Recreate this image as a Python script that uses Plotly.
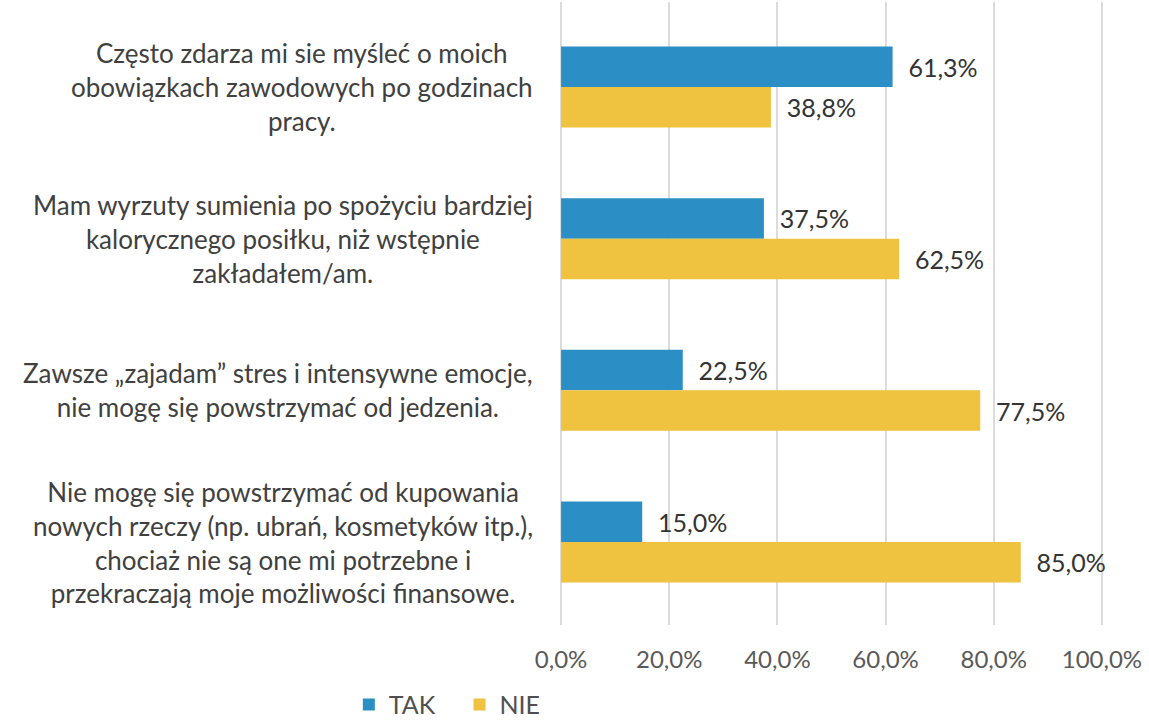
import plotly.graph_objects as go

categories = [
    "Często zdarza mi sie myśleć o moich<br>obowiązkach zawodowych po godzinach<br>pracy.",
    "Mam wyrzuty sumienia po spożyciu bardziej<br>kalorycznego posiłku, niż wstępnie<br>zakładałem/am.",
    "Zawsze „zajadam” stres i intensywne emocje,<br>nie mogę się powstrzymać od jedzenia.",
    "Nie mogę się powstrzymać od kupowania<br>nowych rzeczy (np. ubrań, kosmetyków itp.),<br>chociaż nie są one mi potrzebne i<br>przekraczają moje możliwości finansowe.",
]
tak = [61.3, 37.5, 22.5, 15.0]
nie = [38.8, 62.5, 77.5, 85.0]
series_names = ["TAK", "NIE"]
tick_values = [0, 20, 40, 60, 80, 100]
tick_labels = ["0,0%", "20,0%", "40,0%", "60,0%", "80,0%", "100,0%"]

BLUE = "#2b8fc6"
YELLOW = "#efc23f"
FONT = "Lato"

ids = [f"c{i}" for i in range(len(categories))]

fig = go.Figure()
for name, vals, col in [(series_names[0], tak, BLUE), (series_names[1], nie, YELLOW)]:
    fig.add_trace(go.Bar(
        y=ids, x=vals, name=name + "\u00a0\u00a0\u00a0", orientation="h",
        marker=dict(color=col, line=dict(width=0)),
        text=vals, texttemplate="\u00a0\u00a0%{x:.1f}%", textposition="outside",
        textfont=dict(family=FONT, size=25, color="#333333"),
        cliponaxis=False, hoverinfo="skip",
    ))

for cid, label in zip(ids, categories):
    fig.add_annotation(
        x=0, xref="paper", y=cid, yref="y", text=label,
        xanchor="right", yanchor="middle", align="center", xshift=-25,
        showarrow=False, font=dict(family=FONT, size=26, color="#404040"),
    )

fig.update_layout(
    width=1149, height=720,
    margin=dict(l=560, r=46, t=2, b=95, autoexpand=False),
    paper_bgcolor="white", plot_bgcolor="white",
    separators=", ",
    barmode="group", bargap=0.466, bargroupgap=0.0,
    showlegend=True,
    legend=dict(orientation="h", x=-0.19, xanchor="center", y=-0.128, yanchor="middle",
                font=dict(family=FONT, size=25, color="#505050"), traceorder="normal"),
    font=dict(family=FONT),
)
fig.update_xaxes(range=[-0.2, 100.2], tickvals=tick_values, ticktext=tick_labels,
                 showgrid=True, gridcolor="#dcdcdc", gridwidth=1.5, zeroline=False,
                 showline=False, ticks="outside", ticklen=13, tickcolor="rgba(0,0,0,0)",
                 automargin=False,
                 tickfont=dict(family=FONT, size=24, color="#595959"))
fig.update_yaxes(range=[3.547, -0.560], showticklabels=False, showgrid=False,
                 zeroline=False, showline=False, automargin=False)

fig.write_html("out.html", config={"displayModeBar": False},
               post_script="document.body.style.margin='0px';")
